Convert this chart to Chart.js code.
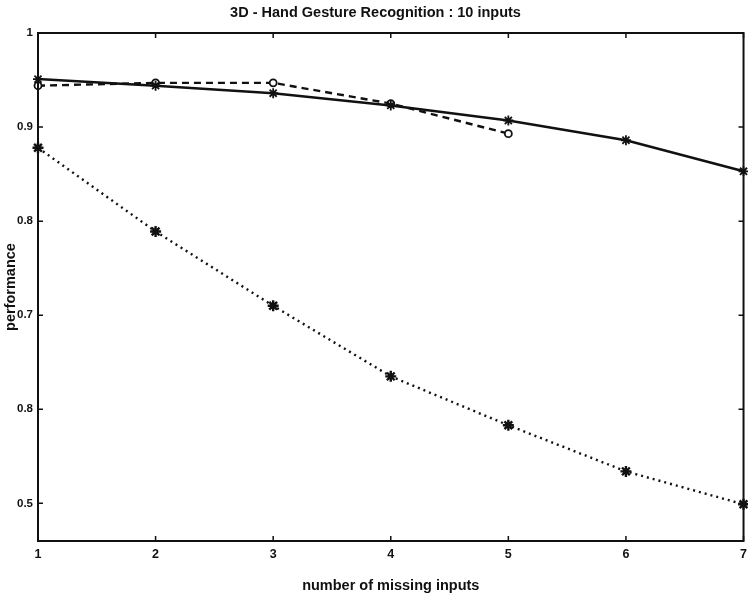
<!DOCTYPE html>
<html>
<head>
<meta charset="utf-8">
<script src="https://cdn.jsdelivr.net/npm/chart.js@4.4.1/dist/chart.umd.min.js"></script>
<style>
    html, body { margin: 0; padding: 0; background: #fff; }
    /* canvas is a bit wider than the page so the last x label gets cut off like in the scan */
    #wrap { width: 748px; height: 601px; overflow: hidden; }
</style>
</head>
<body>
<div id="wrap"><canvas id="chart" width="753" height="601"></canvas></div>
<script>
// values
const missingInputs = [1, 2, 3, 4, 5, 6, 7];
const solidPerf = [0.951, 0.944, 0.936, 0.923, 0.907, 0.886, 0.853];
const dashedPerf = [0.944, 0.947, 0.947, 0.925, 0.893];
const dottedPerf = [0.878, 0.789, 0.710, 0.635, 0.583, 0.534, 0.499];

const xTicks = [1, 2, 3, 4, 5, 6, 7];
const yTicks = [0.5, 0.6, 0.7, 0.8, 0.9, 1];
// tick labels exactly as printed in the scan
const yTickLabels = ['0.5', '0.8', '0.7', '0.8', '0.9', '1'];

const INK = '#111';
const FONT = "'Liberation Sans', Arial, sans-serif";

const toPoints = values => values.map((v, i) => ({ x: missingInputs[i], y: v }));

// matlab style frame with inward ticks on all four sides
const frameTicks = {
    id: 'frameTicks',
    afterDraw(chart) {
        const { ctx, chartArea: a, scales } = chart;
        const len = 5;
        ctx.save();
        ctx.strokeStyle = INK;
        ctx.lineWidth = 2;
        ctx.strokeRect(a.left, a.top, a.right - a.left, a.bottom - a.top);
        ctx.lineWidth = 1.5;
        ctx.beginPath();
        xTicks.forEach(v => {
            const px = scales.x.getPixelForValue(v);
            ctx.moveTo(px, a.bottom); ctx.lineTo(px, a.bottom - len);
            ctx.moveTo(px, a.top); ctx.lineTo(px, a.top + len);
        });
        yTicks.forEach(v => {
            const py = scales.y.getPixelForValue(v);
            ctx.moveTo(a.left, py); ctx.lineTo(a.left + len, py);
            ctx.moveTo(a.right, py); ctx.lineTo(a.right - len, py);
        });
        ctx.stroke();
        ctx.restore();
    }
};

const ctx = document.getElementById('chart');

new Chart(ctx, {
    type: 'line',
    data: {
        datasets: [
            {
                label: 'solid',
                data: toPoints(solidPerf),
                borderColor: INK,
                borderWidth: 2.5,
                pointStyle: 'star',
                pointRadius: 5,
                pointBorderWidth: 1.8,
                pointBorderColor: INK,
                tension: 0,
                clip: false
            },
            {
                label: 'dashed',
                data: toPoints(dashedPerf),
                borderColor: INK,
                borderWidth: 2.4,
                borderDash: [7, 5],
                pointStyle: 'circle',
                pointRadius: 3.5,
                pointBorderWidth: 1.8,
                pointBorderColor: INK,
                pointBackgroundColor: '#fff',
                tension: 0,
                clip: false
            },
            {
                label: 'dotted',
                data: toPoints(dottedPerf),
                borderColor: INK,
                borderWidth: 2.4,
                borderDash: [2, 4],
                pointStyle: 'star',
                pointRadius: 5.5,
                pointBorderWidth: 2.4,
                pointBorderColor: INK,
                tension: 0,
                clip: false
            }
        ]
    },
    options: {
        responsive: false,
        animation: false,
        layout: { padding: { left: 0, right: 2, top: 0, bottom: 0 } },
        plugins: {
            legend: { display: false },
            tooltip: { enabled: false },
            title: {
                display: true,
                text: '3D - Hand Gesture Recognition : 10 inputs',
                color: INK,
                font: { family: FONT, size: 14.5, weight: 'bold' },
                padding: { top: 4, bottom: 11.6 }
            }
        },
        scales: {
            x: {
                type: 'linear',
                min: 1,
                max: 7,
                afterBuildTicks: scale => { scale.ticks = xTicks.map(v => ({ value: v })); },
                afterFit: scale => { scale.height = 60; },
                grid: { display: false, drawTicks: false },
                border: { display: false },
                ticks: {
                    color: INK,
                    padding: 6,
                    maxRotation: 0,
                    font: { family: FONT, size: 12.5, weight: 'bold' }
                },
                title: {
                    display: true,
                    text: 'number of missing inputs',
                    color: INK,
                    font: { family: FONT, size: 14.5, weight: 'bold' },
                    padding: { top: 0, bottom: 6 }
                }
            },
            y: {
                type: 'linear',
                min: 0.46,
                max: 1,
                afterBuildTicks: scale => { scale.ticks = yTicks.map(v => ({ value: v })); },
                afterFit: scale => { scale.width = 38; },
                grid: { display: false, drawTicks: false },
                border: { display: false },
                ticks: {
                    color: INK,
                    padding: 5,
                    font: { family: FONT, size: 11.5, weight: 'bold' },
                    callback: value => yTickLabels[yTicks.indexOf(value)]
                },
                title: {
                    display: true,
                    text: 'performance',
                    color: INK,
                    font: { family: FONT, size: 14.5, weight: 'bold' },
                    padding: { top: 2, bottom: 0 }
                }
            }
        }
    },
    plugins: [frameTicks]
});
</script>
</body>
</html>
